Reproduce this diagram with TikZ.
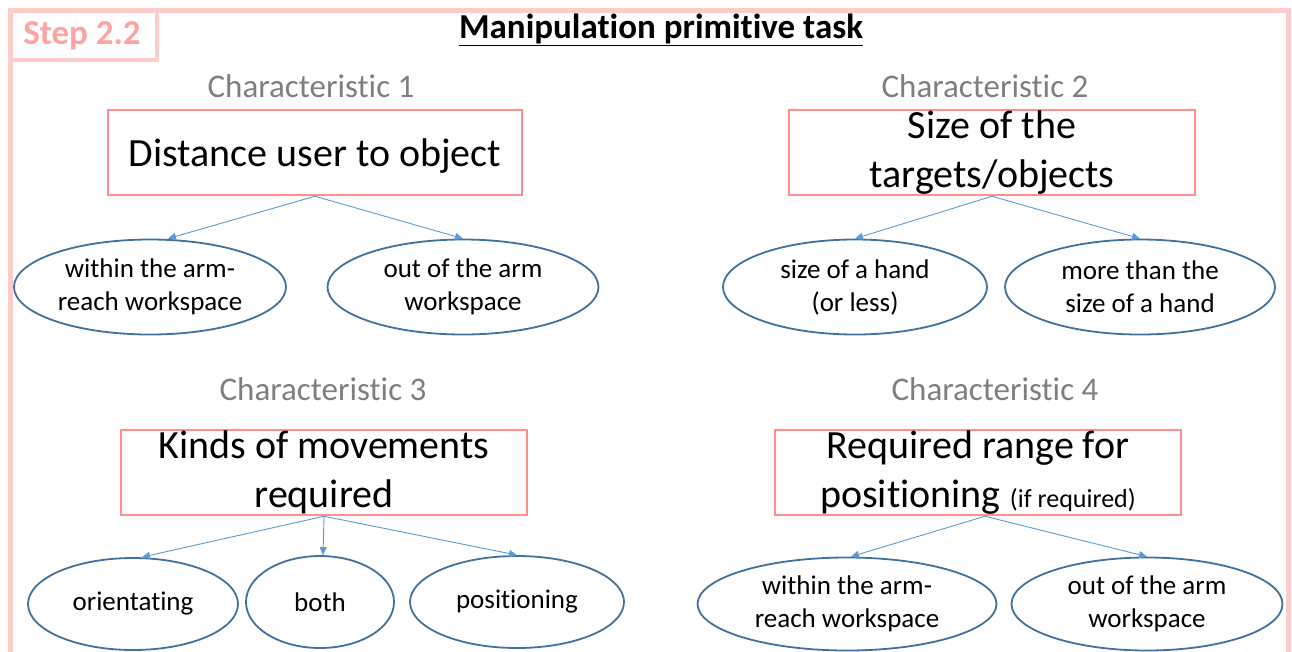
\documentclass[tikz,border=0pt]{standalone}
\usepackage{fontspec}
\setmainfont{Carlito}[Ligatures=NoCommon]
\usetikzlibrary{arrows.meta, positioning, shapes.geometric}

\definecolor{framepink}{HTML}{FFCACA}
\definecolor{steppink}{HTML}{FFA3A3}
\definecolor{boxred}{HTML}{FF8F8F}
\definecolor{ellblue}{HTML}{41719C}
\definecolor{arrowblue}{HTML}{5B9BD5}
\definecolor{labelgray}{HTML}{7F7F7F}

\tikzset{
  charbox/.style={draw=boxred, line width=2.5pt, minimum width=408pt, minimum height=85pt,
    align=center, inner sep=0pt, font=\fontsize{40}{49}\selectfont},
  charlabel/.style={text=labelgray, font=\fontsize{33}{40}\selectfont, inner sep=0pt},
  choice/.style={ellipse, draw=ellblue, line width=1.8pt, align=center, inner sep=0pt,
    font=\fontsize{27}{33}\selectfont},
  link/.style={draw=arrowblue, line width=0.9pt, -{Triangle[length=8pt, width=7pt]}}
}

\begin{document}
\begin{tikzpicture}[x=1pt, y=-1pt]
        \useasboundingbox (0,0) rectangle (1292,651);
        % outer frame and step tag
        \draw[framepink, line width=5pt] (10,660) -- (10,10) -- (1288,10) -- (1288,660);
        \draw[framepink, line width=4pt] (10,10) rectangle (157,60);
        \node[text=steppink, font=\bfseries\fontsize{35}{40}\selectfont, inner sep=0pt] (step) at (82,36) {Step 2.2};
        \node[font=\bfseries\fontsize{35}{40}\selectfont, inner sep=0pt] (title) at (661,30) {\underline{Manipulation primitive task}};

        % characteristic 1
        \node[charlabel] (lab1) at (311,86) {Characteristic 1};
        \node[charbox, minimum width=414pt] (c1) at (315,152.5) {\rule{0pt}{34pt}Distance user to object};
        \node[choice, minimum width=272pt, minimum height=95pt] (e1a) at (150,287) {within the arm-\\reach workspace};
        \node[choice, minimum width=271pt, minimum height=95pt] (e1b) at (463,287) {out of the arm\\workspace};
        \draw[link] (c1.south) -- ([xshift=18pt]e1a.north);
        \draw[link] (c1.south) -- (e1b.north);

        % characteristic 2
        \node[charlabel] (lab2) at (985,86) {Characteristic 2};
        \node[charbox, minimum width=406pt] (c2) at (992,152.5) {Size of the\\targets/objects};
        \node[choice, minimum width=264pt, minimum height=95pt] (e2a) at (855,287) {size of a hand\\(or less)};
        \node[choice, minimum width=270pt, minimum height=95pt] (e2b) at (1140,287) {more than the\\size of a hand};
        \draw[link] (c2.south) -- (e2a.north);
        \draw[link] (c2.south) -- (e2b.north);

        % characteristic 3
        \node[charlabel] (lab3) at (323,389) {Characteristic 3};
        \node[charbox, minimum width=406pt] (c3) at (324,472.5) {Kinds of movements\\required};
        \node[choice, minimum width=210pt, minimum height=92pt] (e3a) at (133,604) {orientating};
        \node[choice, minimum width=148pt, minimum height=92pt] (e3b) at (320,602) {both};
        \node[choice, minimum width=214pt, minimum height=92pt] (e3c) at (517,602) {positioning};
        \draw[link] (c3.south) -- ([xshift=9pt]e3a.north);
        \draw[link] (c3.south) -- ([xshift=3pt]e3b.north);
        \draw[link] (c3.south) -- (e3c.north);

        % characteristic 4
        \node[charlabel] (lab4) at (995,389) {Characteristic 4};
        \node[charbox, minimum width=406pt] (c4) at (978,472.5) {Required range for\\positioning {\fontsize{26}{30}\selectfont (if required)}};
        \node[choice, minimum width=299pt, minimum height=93pt] (e4a) at (847,604) {within the arm-\\reach workspace};
        \node[choice, minimum width=271pt, minimum height=93pt] (e4b) at (1147,604) {out of the arm\\workspace};
        \draw[link] ([xshift=7pt]c4.south) -- ([xshift=4pt]e4a.north);
        \draw[link] ([xshift=7pt]c4.south) -- (e4b.north);
    \end{tikzpicture}
\end{document}
